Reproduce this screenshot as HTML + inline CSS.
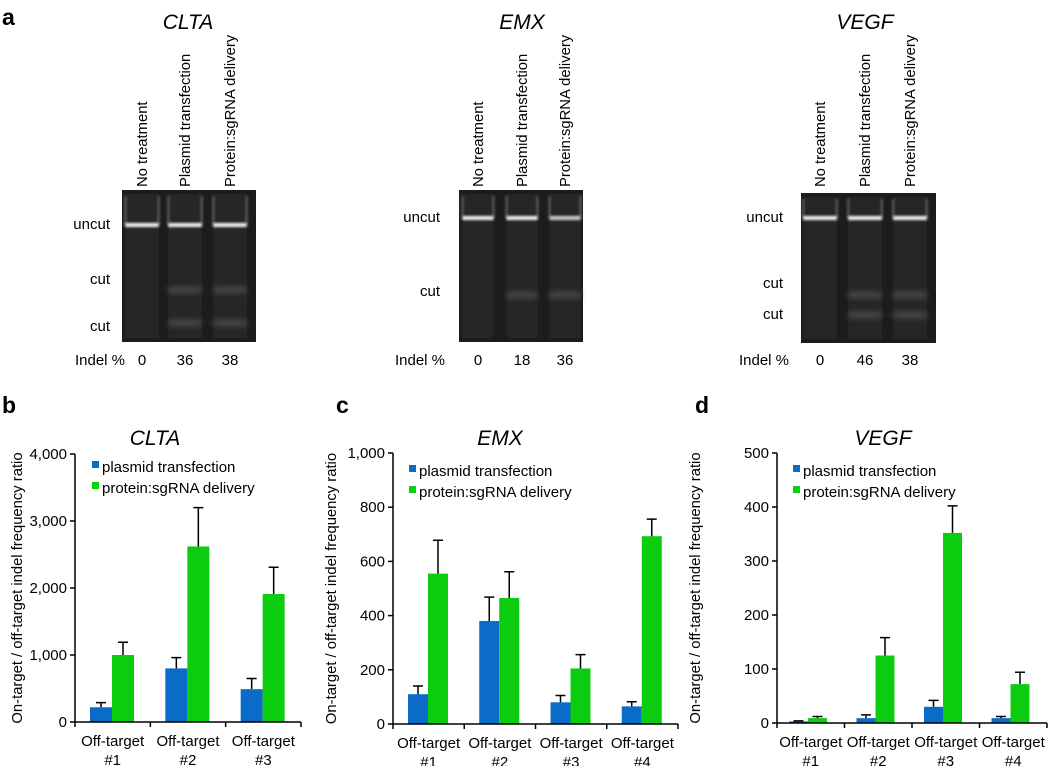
<!DOCTYPE html>
<html><head><meta charset="utf-8">
<style>
html,body{margin:0;padding:0;background:#fff;}
svg{display:block;font-family:"Liberation Sans",Arial,sans-serif;}
</style></head>
<body>
<svg id="fig" width="1050" height="766" viewBox="0 0 1050 766" xmlns="http://www.w3.org/2000/svg">
<defs>
<filter id="blur1" x="-20%" y="-50%" width="140%" height="200%"><feGaussianBlur stdDeviation="1.2"/></filter>
<filter id="blur3" x="-20%" y="-100%" width="140%" height="300%"><feGaussianBlur stdDeviation="3"/></filter>
</defs>
<text x="2" y="25" font-size="23" font-weight="bold">a</text>
<text x="2" y="413" font-size="23" font-weight="bold">b</text>
<text x="336" y="413" font-size="23" font-weight="bold">c</text>
<text x="695" y="413" font-size="23" font-weight="bold">d</text>
<g id="gels"></g>
<g id="charts"></g>
</svg>
<script>
var NS="http://www.w3.org/2000/svg";
function mk(parent,tag,attrs,text){var e=document.createElementNS(NS,tag);for(var k in attrs)e.setAttribute(k,attrs[k]);if(text!==undefined)e.textContent=text;parent.appendChild(e);return e;}

// ---------- Gel data ----------
var gelTitles=["CLTA","EMX","VEGF"];
var laneNames=["No treatment","Plasmid transfection","Protein:sgRNA delivery"];
var indelCLTA=[0,36,38];
var indelEMX=[0,18,36];
var indelVEGF=[0,46,38];

var gelsG=document.getElementById('gels');
var gelLayouts=[
 {x:122,y:190,w:134,h:152,lanes:[142,185,230],uncut:225,cutBands:[290,323],cutLabels:[279,326],labelX:110,indelX:100,indel:indelCLTA,cx:188},
 {x:459,y:190,w:124,h:152,lanes:[478,522,565],uncut:218,cutBands:[295],cutLabels:[291],labelX:440,indelX:420,indel:indelEMX,cx:522},
 {x:801,y:193,w:135,h:150,lanes:[820,865,910],uncut:218,cutBands:[295,315],cutLabels:[283,314],labelX:783,indelX:764,indel:indelVEGF,cx:865}
];
gelLayouts.forEach(function(L,gi){
  var g=mk(gelsG,'g',{});
  
  
  var t=mk(g,'text',{x:L.cx,y:29,'font-size':21,'font-style':'italic','text-anchor':'middle'},gelTitles[gi]);
  
  
  L.lanes.forEach(function(lx,li){
    var lt=mk(g,'text',{transform:'translate('+(lx+5)+',187) rotate(-90)','font-size':14.8},laneNames[li]);
    
    
  });
  var bg=mk(g,'rect',{x:L.x,y:L.y,width:L.w,height:L.h,fill:'#1c1c1c'});
  
  
  var lw=(L.w/3)*0.75;
  L.lanes.forEach(function(lx,li){
    mk(g,'rect',{x:lx-lw/2,y:L.y+4,width:lw,height:L.h-8,fill:'#262626'});
    mk(g,'path',{d:'M'+(lx-lw/2)+' '+(L.y+6)+'V'+L.uncut+'M'+(lx+lw/2)+' '+(L.y+6)+'V'+L.uncut,stroke:'#777','stroke-width':1.5,fill:'none',filter:'url(#blur1)'});
    var bright=(gi===1&&li===2)?'#cfcfcf':'#f4f4f4';
    var band=mk(g,'rect',{x:lx-lw/2,y:L.uncut-2,width:lw,height:4,fill:bright,filter:'url(#blur1)'});
    
    
    if(L.indel[li]>0){
      L.cutBands.forEach(function(cy){
        mk(g,'rect',{x:lx-lw/2,y:cy-3,width:lw,height:6,fill:'#4a4a4a',filter:'url(#blur3)'});
      });
    }
  });
  var u=mk(g,'text',{x:L.labelX,y:L.uncut+4,'font-size':15,'text-anchor':'end'},'uncut');
  
  
  L.cutLabels.forEach(function(cy){
    var c=mk(g,'text',{x:L.labelX,y:cy+5,'font-size':15,'text-anchor':'end'},'cut');
    
    
  });
  var il=mk(g,'text',{x:L.indelX,y:365,'font-size':15,'text-anchor':'middle'},'Indel %');
  
  
  L.lanes.forEach(function(lx,li){
    var v=mk(g,'text',{x:lx,y:365,'font-size':15,'text-anchor':'middle'},String(L.indel[li]));
    
    
  });
});

// ---------- Chart data ----------
var bCats=["#1","#2","#3"];
var bPlasmid=[220,800,490];
var bPlasmidErr=[70,160,160];
var bProtein=[1000,2620,1910];
var bProteinErr=[190,580,400];
var bTicks=[0,1000,2000,3000,4000];
var bTickLabels=["0","1,000","2,000","3,000","4,000"];

var cCats=["#1","#2","#3","#4"];
var cPlasmid=[110,380,80,65];
var cPlasmidErr=[30,88,25,17];
var cProtein=[555,465,205,693];
var cProteinErr=[123,97,51,63];
var cTicks=[0,200,400,600,800,1000];
var cTickLabels=["0","200","400","600","800","1,000"];

var dCats=["#1","#2","#3","#4"];
var dPlasmid=[3,9,30,9];
var dPlasmidErr=[1,6,12,3];
var dProtein=[9,125,352,72];
var dProteinErr=[3,33,50,22];
var dTicks=[0,100,200,300,400,500];
var dTickLabels=["0","100","200","300","400","500"];

var chartsG=document.getElementById('charts');
var BLUE='#0b6cc8',GREEN='#0ccc10';
function drawChart(cfg){
  var g=mk(chartsG,'g',{});
  
  
  var x0=cfg.x0,x1=cfg.x1,y0=cfg.y0,yTop=cfg.yTop,max=cfg.max;
  function yS(v){return y0-(v/max)*(y0-yTop);}
  var n=cfg.cats.length,cw=(x1-x0)/n;
  function xS(i){return x0+i*cw;}
  var t=mk(g,'text',{x:cfg.titleX,y:445,'font-size':21,'font-style':'italic','text-anchor':'middle'},cfg.title);
  
  
  var yt=mk(g,'text',{transform:'translate('+cfg.yTitleX+','+((y0+yTop)/2)+') rotate(-90)','font-size':14.8,'text-anchor':'middle'},'On-target / off-target indel frequency ratio');
  
  
  for(var i=0;i<n;i++){
    var bx=xS(i)+cfg.off;
    var series=[[cfg.p,cfg.pe,BLUE,'plasmid'],[cfg.q,cfg.qe,GREEN,'protein']];
    series.forEach(function(s,si){
      var x=bx+si*cfg.bw,v=s[0][i],top=yS(v);
      var r=mk(g,'rect',{x:x,y:top,width:cfg.bw,height:y0-top,fill:s[2]});
      
      
      var et=yS(v+s[1][i]),cx=x+cfg.bw/2;
      var e=mk(g,'path',{d:'M'+cx+' '+top+'V'+et+'M'+(cx-5)+' '+et+'H'+(cx+5),stroke:'#000','stroke-width':1.5,fill:'none'});
      
      
    });
  }
  var ax=mk(g,'path',{d:'M'+x0+' '+yTop+'V'+y0+'H'+x1,stroke:'#000','stroke-width':1.5,fill:'none'});
  
  
  cfg.ticks.forEach(function(tv,ti){
    var y=yS(tv);
    mk(g,'path',{d:'M'+(x0-5)+' '+y+'H'+x0,stroke:'#000','stroke-width':1.5});
    var tl=mk(g,'text',{x:x0-8,y:y+5,'font-size':15,'text-anchor':'end'},cfg.tickLabels[ti]);
    
    
  });
  for(var j=0;j<=n;j++){
    mk(g,'path',{d:'M'+xS(j)+' '+y0+'V'+(y0+5),stroke:'#000','stroke-width':1.5});
  }
  cfg.cats.forEach(function(c,ci){
    var cx=xS(ci)+cw/2;
    var l1=mk(g,'text',{x:cx,y:y0+24,'font-size':15,'text-anchor':'middle'},'Off-target');
    
    
    var l2=mk(g,'text',{x:cx,y:y0+43,'font-size':15,'text-anchor':'middle'},c);
    
    
  });
  var lg=mk(g,'g',{});
  
  
  [['plasmid transfection',BLUE],['protein:sgRNA delivery',GREEN]].forEach(function(it,k){
    var ly=cfg.legY+k*21;
    mk(lg,'rect',{x:cfg.legX,y:ly-6,width:7,height:7,fill:it[1]});
    var lt=mk(lg,'text',{x:cfg.legX+10,y:ly+5,'font-size':15},it[0]);
    
    
  });
}
drawChart({title:'CLTA',titleX:155,yTitleX:22,x0:75,x1:301,y0:722,yTop:454,max:4000,cats:bCats,p:bPlasmid,pe:bPlasmidErr,q:bProtein,qe:bProteinErr,ticks:bTicks,tickLabels:bTickLabels,off:15,bw:22,legX:92,legY:467});
drawChart({title:'EMX',titleX:500,yTitleX:336,x0:393,x1:678,y0:724,yTop:453,max:1000,cats:cCats,p:cPlasmid,pe:cPlasmidErr,q:cProtein,qe:cProteinErr,ticks:cTicks,tickLabels:cTickLabels,off:15,bw:20,legX:409,legY:471});
drawChart({title:'VEGF',titleX:883,yTitleX:700,x0:777,x1:1047,y0:723,yTop:453,max:500,cats:dCats,p:dPlasmid,pe:dPlasmidErr,q:dProtein,qe:dProteinErr,ticks:dTicks,tickLabels:dTickLabels,off:12,bw:19,legX:793,legY:471});
</script>
</body></html>
